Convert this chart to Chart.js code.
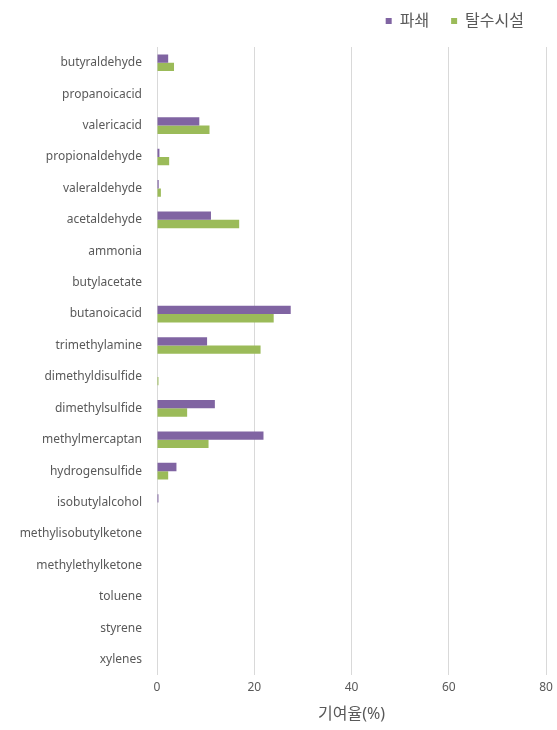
<!DOCTYPE html>
<html>
<head>
<meta charset="utf-8">
<script src="https://cdn.jsdelivr.net/npm/chart.js@4"></script>
<style>
  html, body { margin: 0; padding: 0; background: #fff; }
  #wrap { width: 557px; height: 730px; }
</style>
</head>
<body>
<div id="wrap"><canvas id="contribChart"></canvas></div>
<script>
// Compounds, top to bottom
const compounds = [
  'butyraldehyde', 'propanoicacid', 'valericacid', 'propionaldehyde', 'valeraldehyde',
  'acetaldehyde', 'ammonia', 'butylacetate', 'butanoicacid', 'trimethylamine',
  'dimethyldisulfide', 'dimethylsulfide', 'methylmercaptan', 'hydrogensulfide', 'isobutylalcohol',
  'methylisobutylketone', 'methylethylketone', 'toluene', 'styrene', 'xylenes'
];

// Contribution (%) per process
const crushing = [2.3, 0, 8.7, 0.5, 0.35, 11.1, 0, 0, 27.5, 10.3, 0, 11.9, 21.9, 4.0, 0.3, 0, 0, 0, 0, 0];
const dewatering = [3.5, 0, 10.8, 2.5, 0.8, 16.9, 0, 0, 24.0, 21.3, 0.3, 6.2, 10.6, 2.3, 0, 0, 0, 0, 0, 0];

const xTicks = [0, 20, 40, 60, 80];

const fontFamily = "'Noto Sans', 'Noto Sans CJK KR', sans-serif";
const textColor = '#595959';

// leave room under the legend before the plot starts
const legendSpacer = {
    id: 'legendSpacer',
    beforeInit(chart) {
        const fit = chart.legend.fit;
        chart.legend.fit = function () {
            fit.bind(chart.legend)();
            this.height = 56;
        };
    }
};

document.addEventListener('DOMContentLoaded', function () {
    const ctx = document.getElementById('contribChart').getContext('2d');

    new Chart(ctx, {
        type: 'bar',
        data: {
            labels: compounds,
            datasets: [{
                label: '파쇄',
                data: crushing,
                backgroundColor: '#8064A2',
                categoryPercentage: 0.53,
                barPercentage: 1
            }, {
                label: '탈수시설',
                data: dewatering,
                backgroundColor: '#9BBB59',
                categoryPercentage: 0.53,
                barPercentage: 1
            }]
        },
        plugins: [legendSpacer],
        options: {
            indexAxis: 'y',
            responsive: true,
            maintainAspectRatio: false,
            animation: false,
            layout: {
                padding: { left: 0, right: 11, top: -9, bottom: 6 }
            },
            plugins: {
                legend: {
                    position: 'top',
                    align: 'end',
                    labels: {
                        boxWidth: 6,
                        boxHeight: 6,
                        padding: 22,
                        color: textColor,
                        font: { family: fontFamily, size: 16 }
                    }
                },
                tooltip: { enabled: false }
            },
            scales: {
                x: {
                    min: 0,
                    max: 80,
                    afterBuildTicks: function (scale) {
                        scale.ticks = xTicks.map(v => ({ value: v }));
                    },
                    afterFit: function (scale) {
                        scale.paddingLeft = 0;
                        scale.paddingRight = 0;
                    },
                    grid: {
                        color: '#D9D9D9',
                        drawTicks: false
                    },
                    border: { display: false },
                    ticks: {
                        padding: 5,
                        color: textColor,
                        font: { family: fontFamily, size: 12 }
                    },
                    title: {
                        display: true,
                        text: '기여율(%)',
                        color: textColor,
                        padding: { top: 5, bottom: 0 },
                        font: { family: fontFamily, size: 16 }
                    }
                },
                y: {
                    grid: { display: false, drawTicks: false },
                    border: { display: false },
                    afterFit: function (scale) {
                        scale.width = 157;
                    },
                    ticks: {
                        padding: 15,
                        color: textColor,
                        font: { family: fontFamily, size: 12 }
                    }
                }
            }
        }
    });
});
</script>
</body>
</html>
